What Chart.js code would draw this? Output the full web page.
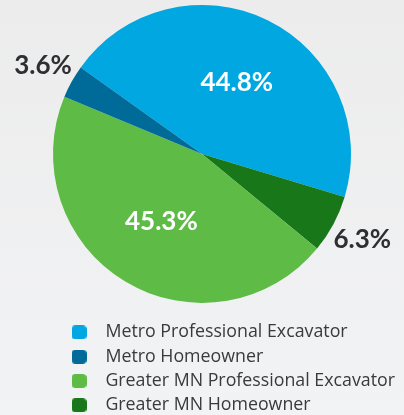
<!DOCTYPE html>
<html>
<head>
<meta charset="utf-8">
<script src="https://cdn.jsdelivr.net/npm/chart.js@4/dist/chart.umd.min.js"></script>
<style>
  html, body { margin: 0; padding: 0; }
  body { width: 404px; height: 415px; background: linear-gradient(#ececec, #f2f3f5); }
  canvas { display: block; }
</style>
</head>
<body>
<canvas id="pie" width="404" height="415"></canvas>
<script>
// categories as listed in the legend
const categories = ['Metro Professional Excavator', 'Metro Homeowner', 'Greater MN Professional Excavator', 'Greater MN Homeowner'];
const shares = [44.8, 3.6, 45.3, 6.3];
const colors = ['#00a7e1', '#006a98', '#5ebb46', '#187718'];
// slices are drawn clockwise in this order (legend index)
const drawOrder = [0, 3, 2, 1];

const labels = drawOrder.map(i => categories[i]);
const values = drawOrder.map(i => shares[i]);
const sliceColors = drawOrder.map(i => colors[i]);

// little rounded squares for the legend
function marker(color) {
  const c = document.createElement('canvas');
  c.width = 15; c.height = 14;
  const g = c.getContext('2d');
  const r = 4, w = 15, h = 14;
  g.fillStyle = color;
  g.beginPath();
  g.moveTo(r, 0);
  g.arcTo(w, 0, w, h, r);
  g.arcTo(w, h, 0, h, r);
  g.arcTo(0, h, 0, 0, r);
  g.arcTo(0, 0, w, 0, r);
  g.closePath();
  g.fill();
  return c;
}

// percent labels on / beside the slices
const sliceLabels = {
  id: 'sliceLabels',
  afterDatasetsDraw(chart) {
    const ctx = chart.ctx;
    const meta = chart.getDatasetMeta(0);
    ctx.save();
    ctx.font = 'bold 26px Lato';
    ctx.textAlign = 'center';
    ctx.textBaseline = 'middle';
    meta.data.forEach((arc, i) => {
      const v = chart.data.datasets[0].data[i];
      const mid = (arc.startAngle + arc.endAngle) / 2;
      const inside = v > 10;
      const d = arc.outerRadius * (inside ? 0.53 : 1.22);
      ctx.fillStyle = inside ? '#ffffff' : '#2e2e33';
      ctx.fillText(v.toFixed(1) + '%', arc.x + Math.cos(mid) * d, arc.y + Math.sin(mid) * d);
    });
    ctx.restore();
  }
};

// put the legend column where the original has it
const legendSpot = {
  id: 'legendSpot',
  afterLayout(chart) {
    chart.legend.left = 55;
    chart.legend.top = 317;
  }
};

const ctx = document.getElementById('pie').getContext('2d');
const chart = new Chart(ctx, {
  type: 'pie',
  data: {
    labels: labels,
    datasets: [{
      data: values,
      backgroundColor: sliceColors,
      borderWidth: 0,
      radius: 149,
    }],
  },
  options: {
    responsive: false,
    animation: false,
    rotation: 305.5,
    plugins: {
      tooltip: { enabled: false },
      legend: {
        position: 'bottom',
        align: 'start',
        labels: {
          usePointStyle: true,
          pointStyleWidth: 35,
          padding: 6.5,
          color: '#3a3a3a',
          font: { family: 'Open Sans', size: 17.8 },
          sort: (a, b) => drawOrder[a.index] - drawOrder[b.index],
          generateLabels: (chart) =>
            Chart.overrides.doughnut.plugins.legend.labels.generateLabels(chart)
              .map(item => ({ ...item, pointStyle: marker(sliceColors[item.index]) })),
        },
      },
    },
  },
  plugins: [sliceLabels, legendSpot],
});
</script>
</body>
</html>
